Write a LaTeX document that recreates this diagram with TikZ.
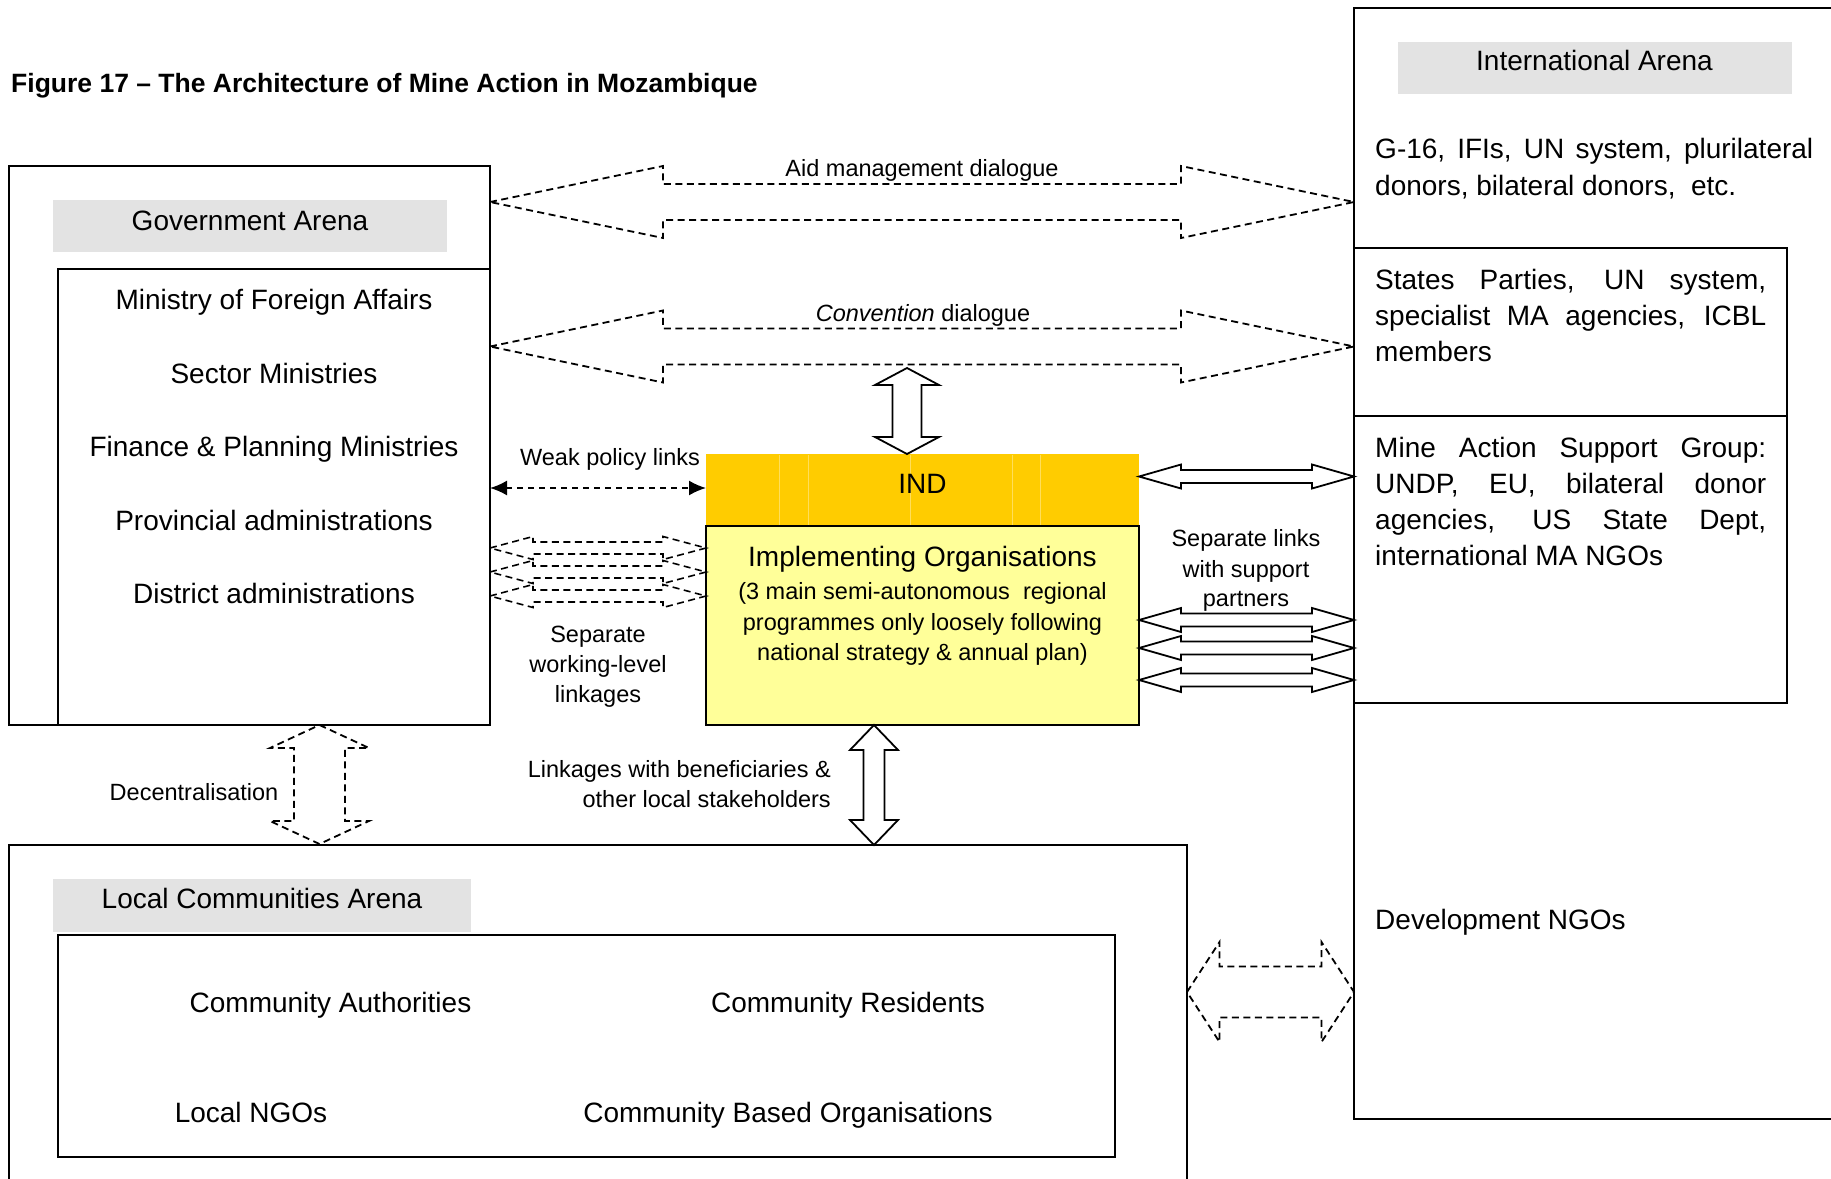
\documentclass[tikz,border=0pt]{standalone}
\usepackage{fontspec}
\setmainfont{Liberation Sans}
\usetikzlibrary{arrows.meta}
\definecolor{lblgray}{RGB}{227,227,227}
\definecolor{indorange}{RGB}{255,204,0}
\definecolor{implyellow}{RGB}{255,255,153}
\definecolor{indline}{RGB}{255,222,90}
% horizontal double block arrow: style, xL, xR, yc, shaft half, head half, head length
\newcommand\dblH[7]{\draw[#1] (#2,#4) -- ({#2+#7},{#4-#6}) -- ({#2+#7},{#4-#5}) -- ({#3-#7},{#4-#5}) -- ({#3-#7},{#4-#6}) -- (#3,#4) -- ({#3-#7},{#4+#6}) -- ({#3-#7},{#4+#5}) -- ({#2+#7},{#4+#5}) -- ({#2+#7},{#4+#6}) -- cycle;}
% vertical double block arrow: style, yT, yB, xc, shaft half, head half, head length
\newcommand\dblV[7]{\draw[#1] (#4,#2) -- ({#4+#6},{#2+#7}) -- ({#4+#5},{#2+#7}) -- ({#4+#5},{#3-#7}) -- ({#4+#6},{#3-#7}) -- (#4,#3) -- ({#4-#6},{#3-#7}) -- ({#4-#5},{#3-#7}) -- ({#4-#5},{#2+#7}) -- ({#4-#6},{#2+#7}) -- cycle;}
\begin{document}
\begin{tikzpicture}[x=1pt,y=-1pt,line join=miter,
  box/.style={draw,line width=2pt,inner sep=0pt,outer sep=0pt,anchor=north west},
  lbl/.style={fill=lblgray,inner sep=0pt,outer sep=0pt,anchor=north west},
  dsh/.style={draw,line width=1.8pt,dash pattern=on 7pt off 4.5pt},
  solidarrow/.style={draw,fill=white,line width=1.8pt},
  big/.style={font=\fontsize{28}{34}\selectfont,inner sep=0pt,anchor=base},
  small/.style={font=\fontsize{23.5}{29}\selectfont,inner sep=0pt,anchor=base}]
\useasboundingbox (0,0) rectangle (1831,1178);
\fill[white] (0,0) rectangle (1831,1178);

% title
\node[anchor=base west,inner sep=0pt,font=\fontsize{26.5}{32}\selectfont\bfseries] (title) at (11,92) {Figure 17 – The Architecture of Mine Action in Mozambique};

% government arena
\node[box,minimum width=481pt,minimum height=559pt] (gov) at (9,166) {};
\node[lbl,minimum width=394.5pt,minimum height=52pt] (govlbl) at (52.5,200) {};
\node[big] (govtxt) at (250,230) {Government Arena};
\node[box,minimum width=432pt,minimum height=456pt] (govin) at (58,269) {};
\node[big] (g1) at (274,309) {Ministry of Foreign Affairs};
\node[big] (g2) at (274,383) {Sector Ministries};
\node[big] (g3) at (274,456.5) {Finance \& Planning Ministries};
\node[big] (g4) at (274,530) {Provincial administrations};
\node[big] (g5) at (274,603) {District administrations};

% international arena
\node[box,minimum width=520pt,minimum height=1111pt] (intl) at (1354,8) {};
\node[lbl,minimum width=393.5pt,minimum height=52pt] (intlbl) at (1398,41.5) {};
\node[big] (inttxt) at (1594.5,70) {International Arena};
\node[big,anchor=base west] (i1) at (1375,158) {\makebox[438pt][s]{G-16, IFIs, UN system, plurilateral}};
\node[big,anchor=base west] (i2) at (1375,195) {donors, bilateral donors,\ \ etc.};
\node[box,minimum width=433pt,minimum height=168pt] (states) at (1354,248) {};
\node[box,minimum width=433pt,minimum height=287pt] (masg) at (1354,416) {};
\node[big,anchor=base west] (s1) at (1375,289) {\makebox[391pt][s]{States Parties, UN system,}};
\node[big,anchor=base west] (s2) at (1375,325) {\makebox[391pt][s]{specialist MA agencies, ICBL}};
\node[big,anchor=base west] (s3) at (1375,361) {members};
\node[big,anchor=base west] (m1) at (1375,457) {\makebox[391pt][s]{Mine Action Support Group:}};
\node[big,anchor=base west] (m2) at (1375,493) {\makebox[391pt][s]{UNDP, EU, bilateral donor}};
\node[big,anchor=base west] (m3) at (1375,529) {\makebox[391pt][s]{agencies, US State Dept,}};
\node[big,anchor=base west] (m4) at (1375,565) {international MA NGOs};
\node[big,anchor=base west] (dev) at (1375,929) {Development NGOs};

% IND and implementing organisations
\node[fill=indorange,inner sep=0pt,outer sep=0pt,anchor=north west,minimum width=433pt,minimum height=72pt] (ind) at (706,454) {};
\foreach \lx in {779,808.5,910,1012,1040.7} \draw[indline,line width=0.8pt] (\lx,455) -- (\lx,525);
\node[box,line width=2.2pt,fill=implyellow,minimum width=433pt,minimum height=199pt] (impl) at (706,526) {};
\node[big] (indtxt) at (922.5,493) {IND};
\node[big] (p1) at (922.5,566) {Implementing Organisations};
\node[small] (p2) at (922.5,599.5) {(3 main semi-autonomous\ \ regional};
\node[small] (p3) at (922.5,630) {programmes only loosely following};
\node[small] (p4) at (922.5,660) {national strategy \& annual plan)};

% local communities arena
\node[box,minimum width=1177.5pt,minimum height=400pt] (loc) at (9,845) {};
\node[lbl,minimum width=418.5pt,minimum height=53pt] (loclbl) at (52.5,879) {};
\node[big] (loctxt) at (262,908) {Local Communities Arena};
\node[box,minimum width=1057pt,minimum height=222pt] (locin) at (58,935) {};
\node[big] (c1) at (330.5,1012) {Community Authorities};
\node[big] (c2) at (848,1012) {Community Residents};
\node[big] (c3) at (251,1122) {Local NGOs};
\node[big] (c4) at (788,1122) {Community Based Organisations};

% dialogue arrows
\dblH{dsh}{490}{1354}{202}{18}{36}{173}
\node[small] (aidlbl) at (922,176) {Aid management dialogue};
\dblH{dsh}{490}{1354}{346.5}{18}{36}{173}
\node[small] (convlbl) at (923,321) {\textit{Convention} dialogue};
\dblV{solidarrow}{368}{454}{907}{14.5}{32}{17}

% weak policy links
\coordinate (wplL) at (gov.east |- 0,488);
\coordinate (wplR) at (ind.west |- 0,488);
\draw[line width=1.8pt,dash pattern=on 6pt off 5pt,{Latex[length=17pt,width=15pt]}-{Latex[length=17pt,width=15pt]}] (wplL) -- (wplR);
\node[small] (wpltxt) at (610,465) {Weak policy links};

% separate working-level linkages
\foreach \yc in {548,572,596} {\dblH{dsh,line width=1.6pt}{490}{706}{\yc}{6}{11.5}{43}}
\node[small] (w1) at (598,642) {Separate};
\node[small] (w2) at (598,672) {working-level};
\node[small] (w3) at (598,702) {linkages};

% separate links with support partners
\foreach \yc in {476.5,620,648,680} {\dblH{solidarrow}{1139}{1354}{\yc}{6.5}{12}{42}}
\node[small] (sl1) at (1246,546.5) {Separate links};
\node[small] (sl2) at (1246,577) {with support};
\node[small] (sl3) at (1246,606) {partners};

% linkages with beneficiaries
\dblV{solidarrow}{725}{845}{874}{10.5}{24}{25}
\node[small,anchor=base east] (b1) at (831,777) {Linkages with beneficiaries \&};
\node[small,anchor=base east] (b2) at (831,807) {other local stakeholders};

% decentralisation
\dblV{dsh}{725}{844}{319.5}{25.5}{49.5}{23}
\node[small] (dec) at (194,800) {Decentralisation};

% local to international
\dblH{dsh}{1187}{1354}{992}{25.5}{50}{32.5}
\end{tikzpicture}
\end{document}
